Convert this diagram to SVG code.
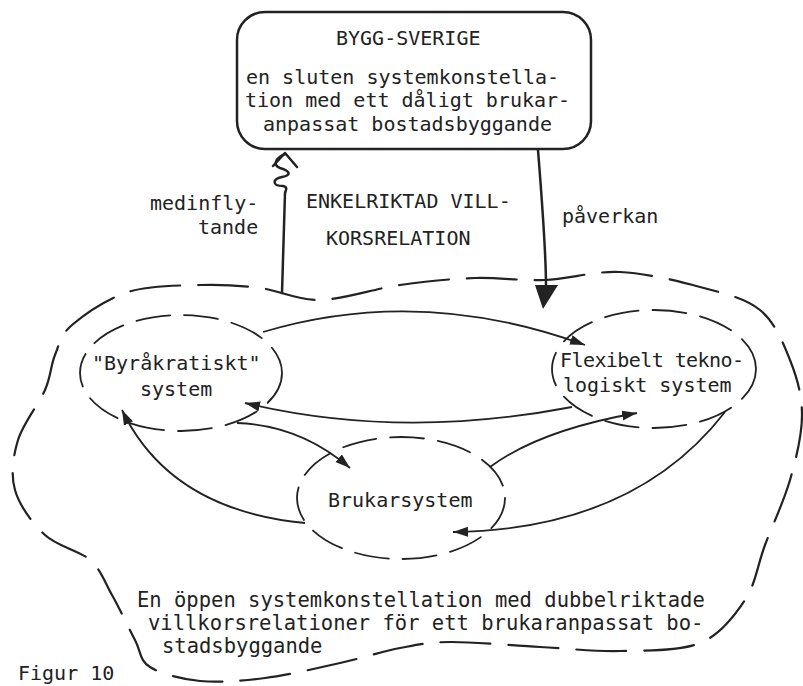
<svg xmlns="http://www.w3.org/2000/svg" width="803" height="686" viewBox="0 0 803 686">
<defs>
<style>
text{font-family:"DejaVu Sans Mono","Liberation Mono",monospace;font-size:20px;fill:#222}
.big{font-size:20.5px}
.box{fill:none;stroke:#222;stroke-width:2.5}
.outer{fill:none;stroke:#222;stroke-width:2.2;stroke-dasharray:50 18;stroke-linecap:round}
.inner{fill:none;stroke:#222;stroke-width:1.8;stroke-dasharray:34 14;stroke-linecap:round}
.con{fill:none;stroke:#222;stroke-width:1.8;marker-end:url(#ah)}
.thick{fill:none;stroke:#222;stroke-width:2.5;stroke-linecap:round;stroke-linejoin:round}
</style>
<marker id="ah" markerUnits="userSpaceOnUse" markerWidth="16" markerHeight="12" refX="15" refY="5" orient="auto">
<path d="M0,0 L15,5 L0,10 Z" fill="#222"/>
</marker>
</defs>
<rect width="803" height="686" fill="#fff"/>

<g id="node-bygg-sverige">
<rect class="box" x="237" y="12" width="354" height="137" rx="28"/>
<text x="336" y="45">BYGG-SVERIGE</text>
<text x="246" y="84">en sluten systemkonstella-</text>
<text x="245" y="107">tion med ett dåligt brukar-</text>
<text x="263" y="131">anpassat bostadsbyggande</text>
</g>

<g id="node-open-constellation">
<path class="outer" d="M72,325 C84.2,314.5 106.7,298.7 128,292 C149.3,285.3 178,285.7 200,285 C222,284.3 240,285.5 260,288 C280,290.5 296.7,300.5 320,300 C343.3,299.5 374.2,288.7 400,285 C425.8,281.3 450.8,278.8 475,278 C499.2,277.2 520.8,281 545,280 C569.2,279 594.2,270.8 620,272 C645.8,273.2 676.7,280.7 700,287 C723.3,293.3 745,297.8 760,310 C775,322.2 783,342.5 790,360 C797,377.5 802,395 802,415 C802,435 796.2,458.3 790,480 C783.8,501.7 772.5,525 765,545 C757.5,565 755.8,583.7 745,600 C734.2,616.3 720.8,634.5 700,643 C679.2,651.5 646.7,650.3 620,651 C593.3,651.7 568.3,648.5 540,647 C511.7,645.5 473.3,641.8 450,642 C426.7,642.2 418.3,644.5 400,648 C381.7,651.5 362.5,658 340,663 C317.5,668 288.3,675 265,678 C241.7,681 219.2,682.8 200,681 C180.8,679.2 160.8,673.8 150,667 C139.2,660.2 141.3,652 135,640 C128.7,628 119.5,608.3 112,595 C104.5,581.7 101.2,570 90,560 C78.8,550 57.5,546.7 45,535 C32.5,523.3 19.5,505.8 15,490 C10.5,474.2 13,456.7 18,440 C23,423.3 38.8,404.2 45,390 C51.2,375.8 50.5,365.8 55,355 C59.5,344.2 59.8,335.5 72,325 Z"/>
<text class="big" x="137" y="607">En öppen systemkonstellation med dubbelriktade</text>
<text class="big" x="148" y="630">villkorsrelationer för ett brukaranpassat bo-</text>
<text class="big" x="162" y="653">stadsbyggande</text>
</g>

<g id="node-byrakratiskt">
<ellipse class="inner" cx="181" cy="373" rx="101" ry="58"/>
<text x="92" y="370">"Byråkratiskt"</text>
<text x="140" y="396">system</text>
</g>

<g id="node-flexibelt">
<ellipse class="inner" cx="654" cy="369" rx="102" ry="59"/>
<text x="560" y="367" textLength="184" lengthAdjust="spacing">Flexibelt tekno-</text>
<text x="563" y="392">logiskt system</text>
</g>

<g id="node-brukarsystem">
<ellipse class="inner" cx="401" cy="498" rx="104" ry="61"/>
<text x="328" y="507">Brukarsystem</text>
</g>

<g id="connectors">
<path class="thick" d="M273,166 L285,153 L297,167"/>
<path class="thick" d="M285,154 C276,158 272,165 280,168 C290,171 292,175 282,177 C272,179 272,186 283,186 C288,187 286,190 285,193 L282,293"/>
<path class="thick" d="M538,150 C542,200 546,250 546,286"/>
<path d="M535,285 L558,285 L543,309 Z" fill="#222"/>
<path class="con" d="M263,332 Q420,285 585,345"/>
<path class="con" d="M572,407 Q400,440 245,403"/>
<path class="con" d="M237,423 Q300,425 350,468"/>
<path class="con" d="M305,523 Q170,510 122,410"/>
<path class="con" d="M490,467 Q540,430 637,413"/>
<path class="con" d="M725,412 C680,470 600,530 453,532"/>
</g>

<g id="labels">
<text x="150" y="210">medinfly-</text>
<text x="198" y="234">tande</text>
<text x="306" y="208">ENKELRIKTAD VILL-</text>
<text x="326" y="245">KORSRELATION</text>
<text x="562" y="223">påverkan</text>
<text x="18" y="680">Figur 10</text>
</g>
</svg>
